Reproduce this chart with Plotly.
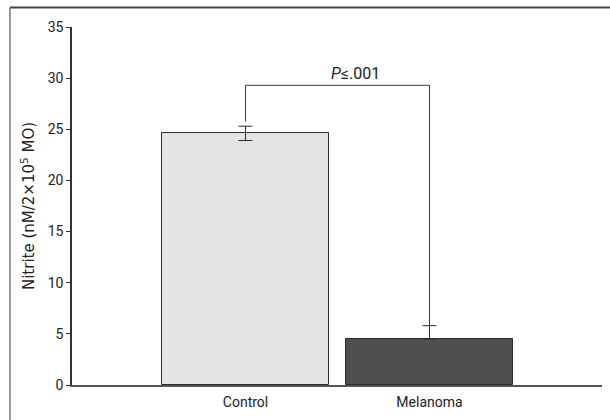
import plotly.graph_objects as go

categories = ["Control", "Melanoma"]
values = [24.6, 4.5]
err_plus = [0.7, 1.3]
err_minus = [0.7, 0.0]
bar_colors = ["#e4e4e4", "#4f4f4f"]
y_ticks = [0, 5, 10, 15, 20, 25, 30, 35]
p_label = "<i>P</i>≤.001"
bracket_top = 29.3
bracket_gap = 0.45

FONT = "Roboto, Liberation Sans, sans-serif"
TITLE_FONT = "DejaVu Sans, Liberation Sans, sans-serif"

fig = go.Figure()
fig.add_trace(go.Bar(
    x=categories, y=values, width=0.908,
    marker=dict(color=bar_colors, line=dict(color="#2a2a2a", width=1)),
    error_y=dict(type="data", array=err_plus, arrayminus=err_minus,
                 color="#2a2a2a", thickness=1, width=7, visible=True),
    showlegend=False,
))

# significance bracket derived from data
left_bottom = values[0] + err_plus[0] + bracket_gap
right_bottom = values[1] + err_plus[1]
fig.add_trace(go.Scatter(
    x=[categories[0], categories[0], categories[1], categories[1]],
    y=[left_bottom, bracket_top, bracket_top, right_bottom],
    mode="lines", line=dict(color="#3a3a3a", width=1), showlegend=False,
    hoverinfo="skip",
))

fig.add_annotation(x=0.6, y=bracket_top, xref="x", yref="y", text=p_label,
                   showarrow=False, yanchor="bottom", yshift=0,
                   font=dict(family=FONT, size=16, color="#222"))

# frame lines (top and left)
fig.add_shape(type="line", xref="paper", yref="paper", x0=-0.117, x1=1.1,
              y0=1.0545, y1=1.0545, line=dict(color="#444", width=2))
fig.add_shape(type="line", xref="paper", yref="paper", x0=-0.117, x1=-0.117,
              y0=1.0545, y1=-0.2, line=dict(color="#777", width=1.5))

fig.update_layout(
    width=610, height=420,
    margin=dict(l=72, r=8, t=27, b=35),
    paper_bgcolor="white", plot_bgcolor="white",
    font=dict(family=FONT, size=14, color="#222"),
    bargap=0,
)
fig.update_xaxes(
    type="category", range=[-0.943, 1.9375],
    showline=True, linecolor="#555", linewidth=2,
    ticks="", showgrid=False, zeroline=False,
    ticklabelstandoff=3,
    tickfont=dict(family=FONT, size=14, color="#222"),
)
fig.update_yaxes(
    range=[0, 35], tickvals=y_ticks,
    showline=True, linecolor="#333", linewidth=1.5,
    ticks="outside", ticklen=4, tickcolor="#333", tickwidth=1,
    showgrid=False, zeroline=False,
    tickfont=dict(family=FONT, size=14, color="#222"),
    title=dict(text="Nitrite (nM/2×10<sup>5</sup> MO)", standoff=9,
               font=dict(family=TITLE_FONT, size=15, color="#222")),
)

fig.write_html(
    "out.html",
    config={"displayModeBar": False},
    post_script="document.body.style.margin='0';document.body.style.overflow='hidden';",
)
